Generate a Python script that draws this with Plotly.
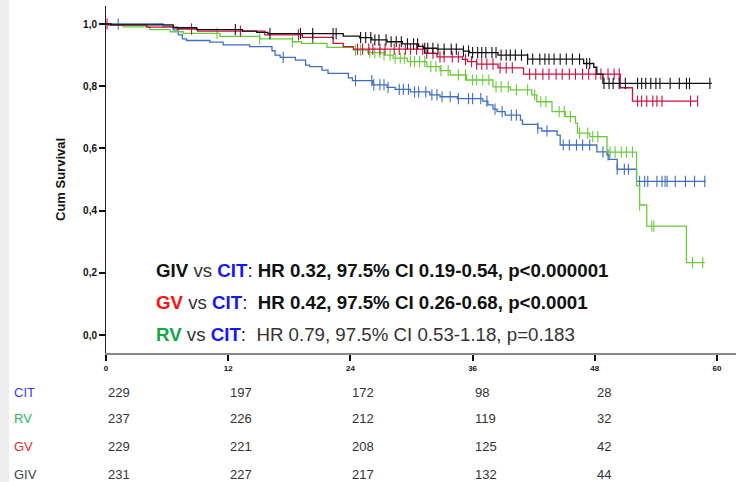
import numpy as np
import plotly.graph_objects as go

# ---- Kaplan-Meier step data (months, cumulative survival) ----
cit_time = [0, 5.6, 6.6, 7.1, 7.5, 7.9, 10.2, 11.5, 14.1, 16.3, 16.6, 17.1, 18.6, 19.6, 20.0,
            21.2, 21.8, 23.8, 24.2, 26.2, 27.6, 28.4, 29.9, 31.8, 32.8, 34.5, 37.0, 37.5, 38.0,
            38.4, 39.2, 40.7, 40.9, 42.4, 42.8, 44.3, 44.6, 48.2, 49.2, 49.4, 50.2, 52.1]
cit_surv = [1.0, 0.993, 0.981, 0.965, 0.952, 0.947, 0.942, 0.933, 0.927, 0.914, 0.900, 0.893,
            0.884, 0.868, 0.863, 0.852, 0.841, 0.827, 0.818, 0.804, 0.796, 0.790, 0.782, 0.772,
            0.766, 0.760, 0.752, 0.740, 0.726, 0.718, 0.707, 0.691, 0.677, 0.665, 0.656, 0.643,
            0.611, 0.589, 0.579, 0.565, 0.533, 0.494]
cit_end = 58.9
cit_cens = [1.2, 17.4, 24.5, 26.1, 26.3, 26.9, 27.3, 27.7, 28.8, 29.2, 29.7, 30.3, 30.7, 31.4,
            32.0, 32.5, 33.0, 33.8, 34.6, 35.6, 36.0, 36.8, 37.4, 38.2, 38.9, 39.8, 40.3, 42.4,
            43.3, 44.9, 45.5, 46.2, 46.8, 47.5, 48.8, 49.3, 50.2, 50.9, 51.3, 52.4, 52.9, 53.2,
            54.1, 54.6, 54.9, 55.1, 55.9, 56.9, 57.8, 58.8]

rv_time = [0, 0.3, 1.7, 4.3, 6.3, 7.6, 11.2, 15.1, 18.3, 19.2, 21.7, 24.3, 25.7, 27.3, 28.2,
           29.6, 31.5, 32.8, 33.8, 35.4, 38.0, 39.7, 41.8, 42.3, 43.8, 45.1, 46.1, 46.3, 47.5,
           49.2, 52.1, 52.4, 53.1, 57.0]
rv_surv = [1.0, 0.997, 0.991, 0.982, 0.975, 0.970, 0.960, 0.952, 0.943, 0.938, 0.925, 0.916,
           0.908, 0.900, 0.890, 0.879, 0.863, 0.850, 0.836, 0.820, 0.798, 0.788, 0.772, 0.750,
           0.718, 0.702, 0.681, 0.649, 0.638, 0.588, 0.480, 0.418, 0.350, 0.233]
rv_end = 58.8
rv_cens = [10.9, 15.1, 18.3, 24.5, 25.0, 25.9, 26.4, 26.9, 27.3, 27.9, 28.4, 28.9, 29.3, 29.9,
           30.3, 30.8, 31.3, 31.9, 32.4, 32.9, 33.6, 34.6, 35.3, 36.0, 36.4, 37.0, 37.6, 38.3,
           38.8, 39.5, 40.3, 41.4, 42.1, 42.7, 43.2, 44.5, 45.0, 45.6, 46.5, 47.3, 47.8, 48.3,
           49.5, 50.0, 50.6, 51.1, 51.7, 52.4, 53.6, 53.8, 57.6, 58.6]

gv_time = [0, 0.2, 4.0, 7.0, 9.0, 15.6, 19.3, 22.3, 23.3, 24.3, 31.3, 32.5, 35.0, 35.5, 36.4,
           38.5, 41.0, 50.5, 51.7]
gv_surv = [1.0, 0.997, 0.990, 0.984, 0.977, 0.965, 0.957, 0.938, 0.927, 0.919, 0.906, 0.894,
           0.886, 0.879, 0.871, 0.859, 0.839, 0.795, 0.752]
gv_end = 58.1
gv_cens = [0.1, 8.4, 13.2, 18.9, 20.3, 24.7, 25.2, 25.8, 26.2, 26.9, 27.4, 28.3, 28.8, 29.4,
           29.9, 30.5, 31.1, 31.5, 32.1, 32.8, 33.2, 34.0, 34.6, 35.3, 35.9, 36.4, 36.9, 37.4,
           38.0, 38.7, 39.3, 39.9, 41.6, 42.2, 42.9, 43.5, 44.2, 44.8, 45.5, 46.1, 46.8, 47.4,
           48.1, 48.6, 49.3, 49.9, 50.4, 52.2, 52.6, 53.1, 53.7, 54.1, 54.6, 57.4, 58.1]

giv_time = [0, 0.5, 6.6, 8.9, 13.4, 14.8, 15.9, 23.3, 24.9, 26.1, 27.6, 29.1, 30.7, 31.2, 32.5,
            35.1, 35.7, 38.5, 41.4, 46.9, 47.9, 48.2, 48.8]
giv_surv = [1.0, 0.997, 0.988, 0.982, 0.977, 0.973, 0.969, 0.961, 0.956, 0.949, 0.943, 0.936,
            0.928, 0.922, 0.919, 0.913, 0.908, 0.900, 0.887, 0.873, 0.861, 0.839, 0.809]
giv_end = 59.5
giv_cens = [12.7, 16.1, 19.1, 20.3, 22.3, 22.6, 25.0, 25.5, 26.0, 26.4, 26.8, 27.5, 28.0, 28.5,
            29.0, 29.6, 30.2, 30.6, 31.3, 31.6, 32.1, 32.6, 33.2, 33.9, 34.4, 35.1, 35.6, 36.0,
            36.5, 36.9, 37.3, 37.9, 38.3, 38.8, 39.3, 39.7, 40.2, 40.8, 41.4, 41.9, 42.6, 43.1,
            43.5, 44.0, 44.6, 45.2, 45.8, 46.5, 47.2, 47.5, 48.9, 49.4, 49.8, 50.4, 51.0, 52.2,
            52.6, 53.0, 53.5, 54.0, 54.4, 55.4, 56.3, 57.0, 57.3, 59.3]

# ---- Number at risk ----
risk_months = [0, 12, 24, 36, 48]
risk_cit = [229, 197, 172, 98, 28]
risk_rv = [237, 226, 212, 119, 32]
risk_gv = [229, 221, 208, 125, 42]
risk_giv = [231, 227, 217, 132, 44]

x_ticks = [0, 12, 24, 36, 48, 60]
y_ticks = [0.0, 0.2, 0.4, 0.6, 0.8, 1.0]

series = [
    ("CIT", cit_time, cit_surv, cit_end, cit_cens, "#3f6fbf"),
    ("RV", rv_time, rv_surv, rv_end, rv_cens, "#6acb3a"),
    ("GV", gv_time, gv_surv, gv_end, gv_cens, "#cc1040"),
    ("GIV", giv_time, giv_surv, giv_end, giv_cens, "#111111"),
]

fig = go.Figure()
for name, t, s, t_end, cens, col in series:
    xs = list(t) + [t_end]
    ys = list(s) + [s[-1]]
    fig.add_trace(go.Scatter(x=xs, y=ys, mode="lines", line=dict(color=col, width=1.3, shape="hv"),
                             name=name, showlegend=False, hoverinfo="skip"))
    # censored observations sit on the step curve at their time
    idx = np.searchsorted(np.array(t), np.array(cens), side="right") - 1
    cy = np.array(s)[idx]
    fig.add_trace(go.Scatter(x=cens, y=cy, mode="markers",
                             marker=dict(symbol="line-ns", size=8, line=dict(color=col, width=1.1)),
                             showlegend=False, hoverinfo="skip"))

# plot area geometry (px)
W, H = 736, 482
ml, mr, mt, mb = 106, 0, 6, 129
pw, ph = W - ml - mr, H - mt - mb

def px_x(px):
    return (px - ml) / pw

def px_y(py):
    return (H - mb - py) / ph

annotations = []
# hazard ratio statements
stat_lines = [
    ("<b>GIV</b> <span style='color:#333333'>vs</span> <b><span style='color:#1515ff'>CIT</span></b>: "
     "<b>HR 0.32, 97.5% CI 0.19-0.54, p&lt;0.000001</b>", 270),
    ("<b><span style='color:#ff1010'>GV</span></b> <span style='color:#333333'>vs</span> "
     "<b><span style='color:#1515ff'>CIT</span></b>:  <b>HR 0.42, 97.5% CI 0.26-0.68, p&lt;0.0001</b>", 302),
    ("<b><span style='color:#12a84a'>RV</span></b> <span style='color:#333333'>vs</span> "
     "<b><span style='color:#1515ff'>CIT</span></b>:  <span style='color:#333333'>HR 0.79, 97.5% CI 0.53-1.18, p=0.183</span>", 334),
]
for txt, py in stat_lines:
    annotations.append(dict(text=txt, xref="paper", yref="paper", x=px_x(154), y=px_y(py),
                            xanchor="left", yanchor="middle", showarrow=False,
                            font=dict(family="Liberation Sans, Arial", size=18.7, color="#111111")))

# number-at-risk table
rows = [("CIT", risk_cit, "#3a3aff", 392), ("RV", risk_rv, "#2fb560", 418),
        ("GV", risk_gv, "#ee2a2a", 447), ("GIV", risk_giv, "#444444", 474)]
for label, vals, col, py in rows:
    annotations.append(dict(text=label, xref="paper", yref="paper", x=px_x(12), y=px_y(py),
                            xanchor="left", yanchor="middle", showarrow=False,
                            font=dict(family="Liberation Sans, Arial", size=13, color=col)))
    for m, v in zip(risk_months, vals):
        annotations.append(dict(text=str(v), xref="x", yref="paper", x=m, y=px_y(py),
                                xanchor="left", yanchor="middle", showarrow=False,
                                font=dict(family="Liberation Sans, Arial", size=13, color="#333333")))

annotations.append(dict(text="<b>Cum Survival</b>", xref="paper", yref="paper", x=px_x(60), y=px_y(180),
                        textangle=-90, showarrow=False, xanchor="center", yanchor="middle",
                        font=dict(family="Liberation Sans, Arial", size=13, color="#111111")))

x_max = pw / ((717 - 106) / 60.0)
y_lo = -(353 - 335) / 311.0
y_hi = 1 + (24 - 6) / 311.0

fig.update_layout(
    width=W, height=H, margin=dict(l=ml, r=mr, t=mt, b=mb),
    paper_bgcolor="white", plot_bgcolor="white",
    separators=", ",
    annotations=annotations,
    shapes=[dict(type="rect", xref="paper", yref="paper", x0=px_x(0), x1=px_x(9),
                 y0=px_y(H), y1=px_y(0), fillcolor="#eeeeee", line=dict(width=0), layer="below")],
    xaxis=dict(range=[0, x_max], tickvals=x_ticks, ticks="outside", ticklen=6, tickwidth=1.5,
               tickcolor="#111111", showline=True, linecolor="#8a8a8a", linewidth=2,
               showgrid=False, zeroline=False,
               tickfont=dict(family="Liberation Sans, Arial", size=8, color="#111111", weight="bold")),
    yaxis=dict(range=[y_lo, y_hi], tickvals=y_ticks, tickformat=".1f", ticks="outside", ticklen=6,
               tickwidth=1.5, tickcolor="#111111", showline=True, linecolor="#222222", linewidth=1,
               showgrid=False, zeroline=False,
               tickfont=dict(family="Liberation Sans, Arial", size=10, color="#111111", weight="bold")),
)

fig.write_html("out.html")
